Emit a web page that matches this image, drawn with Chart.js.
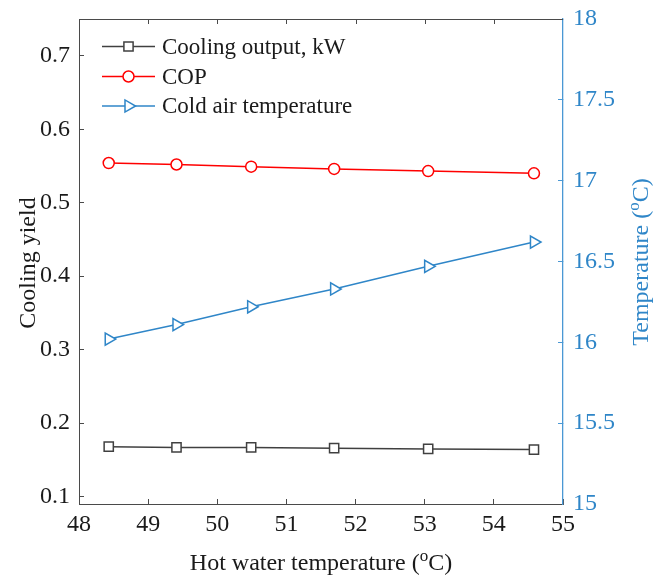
<!DOCTYPE html>
<html>
<head>
<meta charset="utf-8">
<script src="https://cdn.jsdelivr.net/npm/chart.js@4.4.1/dist/chart.umd.min.js"></script>
<style>
  html, body { margin: 0; padding: 0; background: #fff; }
  #wrap { width: 664px; height: 579px; }
</style>
</head>
<body>
<div id="wrap"><canvas id="c" width="664" height="579"></canvas></div>
<script>
// Hot water temperature (°C) at each operating point
const hotWaterTemp = [48.43, 49.41, 50.49, 51.69, 53.05, 54.58];
// Left axis series (cooling yield)
const coolingOutput = [0.168, 0.167, 0.167, 0.166, 0.165, 0.164];
const cop = [0.554, 0.552, 0.549, 0.546, 0.543, 0.540];
// Right axis series (°C)
const coldAirTemp = [16.02, 16.11, 16.22, 16.33, 16.47, 16.62];

// Tick labels
const xTicks = [48, 49, 50, 51, 52, 53, 54, 55];
const leftTicks = [0.1, 0.2, 0.3, 0.4, 0.5, 0.6, 0.7];
const rightTicks = [15, 15.5, 16, 16.5, 17, 17.5, 18];

const seriesNames = ['Cooling output, kW', 'COP', 'Cold air temperature'];

const FONT = "'Liberation Serif', 'Times New Roman', serif";
const AXIS = '#4a4a4a';
const GRAY = '#404040';
const RED = '#ff0000';
const BLUE = '#2f86c8';
const BLUE_AXIS = '#4a98d4';

const pts = ys => hotWaterTemp.map((x, i) => ({ x, y: ys[i] }));

const styles = [
  { color: GRAY, pointStyle: 'rect', radius: 6.5, rotation: 0 },
  { color: RED, pointStyle: 'circle', radius: 5.5, rotation: 0 },
  { color: BLUE, pointStyle: 'triangle', radius: 7, rotation: 90 }
];

// Legend drawn as line + marker samples with labels
const legendPlugin = {
  id: 'lineLegend',
  afterDraw(chart) {
    const ctx = chart.ctx;
    const rows = [46.5, 76.5, 106];
    ctx.save();
    styles.forEach((s, i) => {
      const y = rows[i];
      ctx.strokeStyle = s.color;
      ctx.lineWidth = 1.5;
      ctx.beginPath();
      ctx.moveTo(102, y);
      ctx.lineTo(155, y);
      ctx.stroke();
      ctx.fillStyle = '#fff';
      ctx.lineWidth = 1.5;
      Chart.helpers.drawPoint(ctx, {
        pointStyle: s.pointStyle, radius: s.radius, rotation: s.rotation, borderWidth: 1.5
      }, 128.5, y);
      ctx.fillStyle = '#1a1a1a';
      ctx.font = '23px ' + FONT;
      ctx.textBaseline = 'middle';
      ctx.textAlign = 'left';
      ctx.fillText(seriesNames[i], 162, y + 1);
    });
    ctx.restore();
  }
};

// Text runs with a raised, smaller "o" for the degree sign
function measureParts(ctx, parts, size) {
  let w = 0;
  parts.forEach(([t, sup]) => {
    ctx.font = (sup ? Math.round(size * 0.7) : size) + 'px ' + FONT;
    w += ctx.measureText(t).width;
  });
  return w;
}
function fillParts(ctx, parts, size, x, y) {
  let cx = x;
  parts.forEach(([t, sup]) => {
    ctx.font = (sup ? Math.round(size * 0.7) : size) + 'px ' + FONT;
    ctx.fillText(t, cx, sup ? y - size * 0.38 : y);
    cx += ctx.measureText(t).width;
  });
}

// Axis titles, the top frame line and its inward ticks
const titlePlugin = {
  id: 'axisTitles',
  afterDraw(chart) {
    const ctx = chart.ctx;
    const a = chart.chartArea;
    const xs = chart.scales.x;
    ctx.save();
    ctx.strokeStyle = AXIS;
    ctx.lineWidth = 1;
    ctx.beginPath();
    ctx.moveTo(a.left, a.top + 0.5);
    ctx.lineTo(a.right, a.top + 0.5);
    xTicks.slice(1, -1).forEach(v => {
      const px = Math.round(xs.getPixelForValue(v)) + 0.5;
      ctx.moveTo(px, a.top);
      ctx.lineTo(px, a.top + 5);
    });
    ctx.stroke();

    ctx.textBaseline = 'alphabetic';
    ctx.textAlign = 'left';
    const size = 24;

    ctx.fillStyle = '#1a1a1a';
    const xParts = [['Hot water temperature (', false], ['o', true], ['C)', false]];
    const xw = measureParts(ctx, xParts, size);
    fillParts(ctx, xParts, size, (a.left + a.right) / 2 - xw / 2, 570);

    ctx.save();
    ctx.translate(35, 263);
    ctx.rotate(-Math.PI / 2);
    ctx.font = size + 'px ' + FONT;
    ctx.textAlign = 'center';
    ctx.fillText('Cooling yield', 0, 0);
    ctx.restore();

    ctx.save();
    ctx.fillStyle = BLUE;
    ctx.translate(648, 262);
    ctx.rotate(-Math.PI / 2);
    const rParts = [['Temperature (', false], ['o', true], ['C)', false]];
    const rw = measureParts(ctx, rParts, size);
    ctx.textAlign = 'left';
    fillParts(ctx, rParts, size, -rw / 2, 0);
    ctx.restore();

    ctx.restore();
  }
};

const ds = (label, data, axis, s) => ({
  label, data, yAxisID: axis,
  borderColor: s.color, borderWidth: 1.5,
  pointStyle: s.pointStyle, pointRadius: s.radius, pointRotation: s.rotation,
  pointBorderColor: s.color, pointBackgroundColor: '#fff', pointBorderWidth: 1.5,
  pointHoverRadius: s.radius,
  tension: 0, fill: false
});

// Fixed axis sizes so the plot frame sits at a set place
const fitY = w => s => { s.width = w; s.paddingTop = 0; s.paddingBottom = 0; };
const fitX = h => s => { s.height = h; s.paddingLeft = 0; s.paddingRight = 0; };

new Chart(document.getElementById('c'), {
  type: 'line',
  data: {
    datasets: [
      ds(seriesNames[0], pts(coolingOutput), 'y', styles[0]),
      ds(seriesNames[1], pts(cop), 'y', styles[1]),
      ds(seriesNames[2], pts(coldAirTemp), 'y1', styles[2])
    ]
  },
  options: {
    responsive: false,
    animation: false,
    layout: { padding: { top: 19, left: 0, right: 0, bottom: 0 } },
    plugins: { legend: { display: false }, tooltip: { enabled: false } },
    scales: {
      x: {
        type: 'linear', position: 'bottom', min: 48, max: 55,
        afterBuildTicks: s => { s.ticks = xTicks.map(v => ({ value: v })); },
        afterFit: fitX(75),
        grid: { drawOnChartArea: false, drawTicks: true, tickLength: -5, color: AXIS },
        border: { display: true, color: AXIS, width: 1 },
        ticks: { color: '#1a1a1a', font: { family: FONT, size: 24 }, padding: 11, maxRotation: 0 }
      },
      y: {
        type: 'linear', position: 'left', min: 0.09, max: 0.75,
        afterBuildTicks: s => { s.ticks = leftTicks.map(v => ({ value: v })); },
        afterFit: fitY(79),
        grid: { drawOnChartArea: false, drawTicks: true, tickLength: -5, color: AXIS },
        border: { display: true, color: AXIS, width: 1 },
        ticks: { color: '#1a1a1a', font: { family: FONT, size: 24 }, padding: 14,
                 callback: v => String(Math.round(v * 10) / 10) }
      },
      y1: {
        type: 'linear', position: 'right', min: 15, max: 18,
        afterBuildTicks: s => { s.ticks = rightTicks.map(v => ({ value: v })); },
        afterFit: fitY(101),
        grid: { drawOnChartArea: false, drawTicks: true, tickLength: -5, color: BLUE_AXIS },
        border: { display: true, color: BLUE_AXIS, width: 1.3 },
        ticks: { color: BLUE, font: { family: FONT, size: 24 }, padding: 15,
                 callback: v => String(v) }
      }
    }
  },
  plugins: [legendPlugin, titlePlugin]
});
</script>
</body>
</html>
